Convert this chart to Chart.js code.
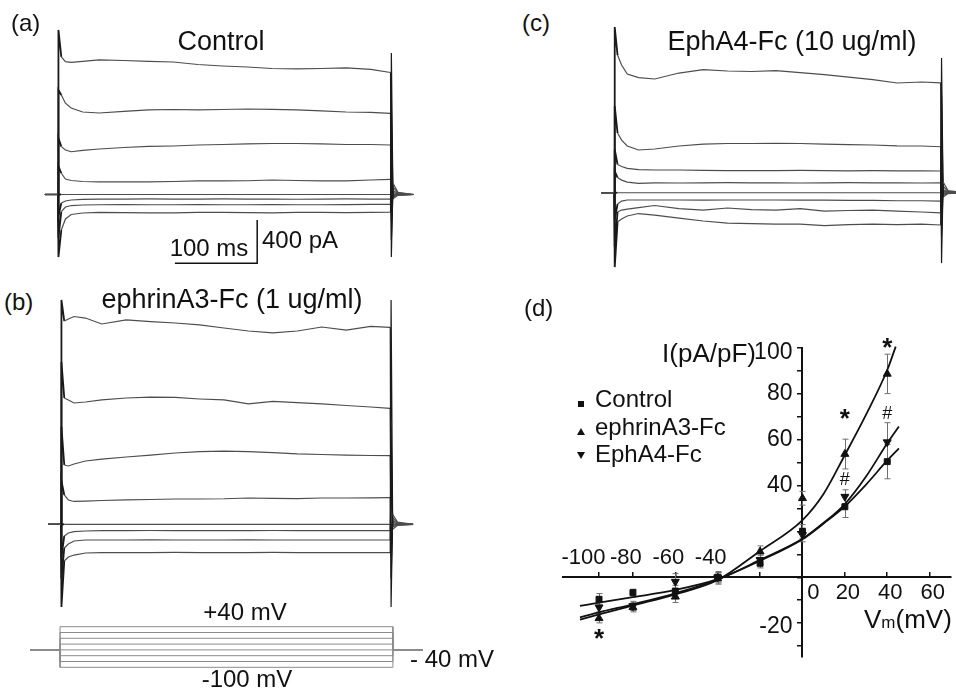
<!DOCTYPE html>
<html>
<head>
<meta charset="utf-8">
<script src="https://cdn.jsdelivr.net/npm/chart.js@4.4.1/dist/chart.umd.min.js"></script>
<style>
  html, body { margin: 0; padding: 0; background: #fff; }
  #fig { position: relative; width: 956px; height: 692px; overflow: hidden;
         font-family: 'Liberation Sans', Arial, sans-serif; color: #111; }
  canvas { position: absolute; }
  .lbl { position: absolute; white-space: nowrap; line-height: 1; transform: translate(-50%, -50%); }
  .lbl.lft { transform: translate(0, -50%); }
  .lbl.rgt { transform: translate(-100%, -50%); }
  .mk { position: absolute; width: 0; height: 0; }
</style>
</head>
<body>
<div id="fig">
  <canvas id="panelA" width="380" height="260" style="left:40px;top:20px"></canvas>
  <canvas id="panelB" width="380" height="325" style="left:40px;top:290px"></canvas>
  <canvas id="panelC" width="366" height="260" style="left:590px;top:20px"></canvas>
  <canvas id="protocol" width="420" height="80" style="left:20px;top:600px"></canvas>
  <canvas id="panelD" width="411" height="369" style="left:545px;top:318px"></canvas>

  <div class="lbl lft" style="left:11px;top:23px;font-size:24px">(a)</div>
  <div class="lbl" style="left:221px;top:41px;font-size:27px">Control</div>
  <div class="lbl" style="left:209px;top:248px;font-size:24px">100 ms</div>
  <div class="lbl lft" style="left:262px;top:240px;font-size:24px">400 pA</div>

  <div class="lbl lft" style="left:4px;top:302px;font-size:24px">(b)</div>
  <div class="lbl" style="left:232px;top:299px;font-size:27px">ephrinA3-Fc (1 ug/ml)</div>

  <div class="lbl" style="left:245px;top:612px;font-size:24px">+40 mV</div>
  <div class="lbl" style="left:247px;top:679px;font-size:24px">-100 mV</div>
  <div class="lbl lft" style="left:410px;top:659px;font-size:24px">- 40 mV</div>

  <div class="lbl lft" style="left:522px;top:23px;font-size:24px">(c)</div>
  <div class="lbl" style="left:792px;top:41px;font-size:27px">EphA4-Fc (10 ug/ml)</div>

  <div class="lbl lft" style="left:524px;top:308px;font-size:24px">(d)</div>
  <div class="lbl rgt" style="left:756px;top:353px;font-size:26px">I(pA/pF)</div>
  <div class="lbl lft" style="left:864px;top:619px;font-size:26px">V<span style="font-size:17px">m</span>(mV)</div>

  <div class="mk" style="left:578px;top:401px;width:6px;height:6px;background:#111"></div>
  <div class="lbl lft" style="left:595px;top:399px;font-size:24px">Control</div>
  <div class="mk" style="left:577px;top:428px;border-left:4px solid transparent;border-right:4px solid transparent;border-bottom:7px solid #111"></div>
  <div class="lbl lft" style="left:595px;top:427px;font-size:24px">ephrinA3-Fc</div>
  <div class="mk" style="left:577px;top:452px;border-left:4px solid transparent;border-right:4px solid transparent;border-top:7px solid #111"></div>
  <div class="lbl lft" style="left:595px;top:454px;font-size:24px">EphA4-Fc</div>
</div>

<script>
// ---- current traces: sample times (ms) and current (pA) for each voltage step ----
const traceTime = [-16, 0, 0.5, 4, 9, 16, 30, 50, 80, 110, 140, 170, 200, 230, 260, 290, 320, 350, 380, 404, 405, 407, 413, 432];

// (a) control
const a40   = [0, 0, 1520, 1271, 1227, 1220, 1229, 1243, 1238, 1229, 1224, 1201, 1187, 1178, 1164, 1160, 1164, 1169, 1155, 1127, -578, 104, 20, 0];
const a20   = [0, 0, 965, 919, 843, 799, 762, 753, 767, 781, 785, 781, 785, 790, 787, 781, 772, 762, 758, 750, -420, 70, 15, 0];
const a0    = [0, 0, 520, 442, 411, 395, 407, 420, 434, 444, 448, 457, 462, 467, 471, 471, 467, 462, 462, 457, -250, 40, 8, 0];
const aM20  = [0, 0, 260, 196, 143, 129, 120, 116, 116, 117, 120, 125, 125, 127, 134, 129, 125, 125, 134, 140, -120, 20, 4, 0];
const aM40  = [0, 0, 0, 0, 0, 0, 0, 0, 0, 0, 0, 0, 0, 0, 0, 0, 0, 0, 0, 0, 0, 0, 0, 0];
const aM60  = [0, 0, -200, -79, -60, -51, -46, -42, -42, -40, -42, -42, -40, -42, -42, -44, -42, -40, -42, -42, 300, -10, -3, 0];
const aM80  = [0, 0, -400, -159, -116, -102, -97, -95, -93, -95, -95, -93, -95, -95, -93, -95, -95, -93, -92, -92, 800, -25, -6, 0];
const aM100 = [0, 0, -578, -328, -226, -185, -171, -166, -168, -170, -170, -166, -166, -168, -170, -166, -166, -168, -166, -164, 1307, -40, -8, 0];

// (b) ephrinA3-Fc
const b40   = [0, 0, 2073, 1878, 1897, 1920, 1906, 1851, 1888, 1872, 1860, 1842, 1814, 1786, 1768, 1786, 1823, 1795, 1828, 1820, -764, 90, 20, 0];
const b20   = [0, 0, 1500, 1167, 1149, 1121, 1130, 1149, 1167, 1176, 1172, 1158, 1149, 1112, 1135, 1125, 1112, 1098, 1084, 1072, -500, 60, 12, 0];
const b0    = [0, 0, 900, 548, 539, 557, 585, 603, 622, 640, 659, 671, 677, 671, 663, 650, 645, 640, 636, 634, -300, 35, 8, 0];
const bM20  = [0, 0, 400, 271, 225, 211, 215, 220, 225, 229, 234, 234, 236, 243, 240, 238, 243, 243, 245, 246, -150, 18, 4, 0];
const bM40  = [0, 0, 0, 0, 0, 0, 0, 0, 0, 0, 0, 0, 0, 0, 0, 0, 0, 0, 0, 0, 0, 0, 0, 0];
const bM60  = [0, 0, -300, -108, -80, -67, -62, -59, -59, -57, -59, -59, -59, -59, -57, -59, -59, -59, -59, -59, 400, -10, -3, 0];
const bM80  = [0, 0, -500, -219, -182, -154, -145, -145, -145, -143, -145, -145, -145, -143, -145, -145, -145, -145, -145, -145, 900, -25, -6, 0];
const bM100 = [0, 0, -764, -339, -302, -284, -265, -262, -262, -262, -260, -262, -262, -262, -260, -262, -262, -262, -262, -262, 2073, -45, -10, 0];

// (c) EphA4-Fc
const c40   = [0, 0, 1531, 1272, 1180, 1097, 1064, 1051, 1106, 1138, 1125, 1120, 1129, 1109, 1092, 1069, 1046, 1014, 1023, 1016, -650, 100, 20, 0];
const c20   = [0, 0, 800, 552, 487, 432, 395, 404, 432, 450, 455, 455, 456, 455, 450, 445, 441, 434, 432, 425, -400, 60, 12, 0];
const c0    = [0, 0, 400, 261, 242, 225, 214, 210, 210, 207, 205, 205, 205, 207, 205, 203, 205, 203, 203, 201, -200, 30, 6, 0];
const cM20  = [0, 0, 200, 140, 117, 99, 87, 92, 90, 92, 94, 92, 92, 90, 92, 94, 92, 92, 90, 92, -100, 15, 3, 0];
const cM40  = [0, 0, 0, 0, 0, 0, 0, 0, 0, 0, 0, 0, 0, 0, 0, 0, 0, 0, 0, 0, 0, 0, 0, 0];
const cM60  = [0, 0, -250, -104, -77, -67, -67, -67, -67, -69, -67, -67, -67, -69, -69, -71, -71, -74, -74, -77, 400, -10, -3, 0];
const cM80  = [0, 0, -500, -178, -160, -151, -137, -118, -146, -160, -141, -155, -160, -146, -169, -164, -160, -169, -178, -185, 900, -25, -6, 0];
const cM100 = [0, 0, -687, -271, -243, -215, -192, -206, -234, -261, -280, -285, -289, -289, -303, -294, -289, -294, -289, -298, 1245, -40, -8, 0];

// scale bar: 100 ms / 400 pA, anchored at its corner (ms, pA)
const scaleBarOrigin = [142, -636];
const scaleBarMs = 100;
const scaleBarPA = 400;

// ---- voltage protocol (mV) ----
const stepLevels = [-100, -80, -60, -40, -20, 0, 20, 40];
const holdingMv = -40;
const protocolTime = [-36.5, 0, 0, 405, 405, 441.6];

// ---- (d) I-V relation ----
const ivVoltage  = [-96, -80, -60, -40, -20, 0, 20, 40];
const ctrlMean   = [-9.6, -6.7, -6, 0, 6.1, 20, 30.8, 50.5];
const ctrlErr    = [2.5, 1.5, 2.5, 2, 2, 3, 4.7, 7.5];
const ephrinMean = [-17.9, -13.1, -8.5, -0.5, 11.2, 34.5, 53.8, 88.8];
const ephrinErr  = [2, 2, 2.5, 2.5, 2.5, 3, 6.5, 8.6];
const ephaMean   = [-13.1, -12.5, -1.9, 0, 7.6, 18.5, 35.2, 59];
const ephaErr    = [2, 2, 3.5, 2.5, 2, 3, 3, 8.5];

const fitVoltage       = [-105, -96, -80, -60, -40, -20, 0, 10, 20, 30, 40, 45.5];
const ctrlFit          = [-12.5, -11.1, -8.7, -5.5, -0.8, 7.2, 16.6, 23.5, 31, 40.5, 51, 56.3];
const ephaFit          = [-17.5, -15.3, -11.8, -7, -1, 7.6, 16.8, 23.8, 32, 44, 58.5, 65.8];
const ephrinFitVoltage = [-105, -96, -80, -60, -40, -20, 0, 10, 20, 30, 40, 44];
const ephrinFit        = [-18.5, -16.2, -12.3, -7.5, -1.2, 11.5, 25, 36.5, 53.4, 71, 90.5, 100.7];

const vmTicks       = [-96, -80, -60, -40, -20, 20, 40, 60];
const vmLabelValues = [-100, -80, -60, -40, 0, 20, 40, 60];
const iLabelValues  = [100, 80, 60, 40, -20];

const sigVoltage = [40, 20, 40, 20, -96];
const sigCurrent = [102.5, 71.5, 71.3, 42.5, -24.5];
const sigText    = ['*', '*', '#', '#', '*'];

Chart.defaults.font.family = "'Liberation Sans', Arial, sans-serif";
Chart.defaults.color = '#111';

const TRACE_COLOR = '#4d4d4d';
const INK = '#111';

function xy(xs, ys) {
    return xs.map((x, i) => ({ x, y: ys[i] }));
}

function baseOptions(xMin, xMax, yMin, yMax) {
    return {
        responsive: false,
        animation: false,
        events: [],
        layout: { padding: 0 },
        plugins: { legend: { display: false }, tooltip: { enabled: false } },
        scales: {
            x: { type: 'linear', display: false, min: xMin, max: xMax },
            y: { type: 'linear', display: false, min: yMin, max: yMax },
        },
    };
}

// capacitive transients: the step-on one is drawn heavier, the step-off one darker
const isOnset = i => i === 1 || i === 2;
const isOffset = i => i === 19 || i === 20;

function traceChart(id, traces, xRange, yRange, extra) {
    const datasets = traces.map(vals => ({
        data: xy(traceTime, vals),
        borderColor: TRACE_COLOR,
        borderWidth: 1.2,
        pointRadius: 0,
        tension: 0,
        segment: {
            borderColor: c => (isOnset(c.p0DataIndex) || isOffset(c.p0DataIndex)) ? '#1a1a1a' : undefined,
            borderWidth: c => isOnset(c.p0DataIndex) ? 1.8 : undefined,
        },
    }));
    return new Chart(document.getElementById(id), {
        type: 'line',
        data: { datasets: datasets.concat(extra || []) },
        options: baseOptions(xRange[0], xRange[1], yRange[0], yRange[1]),
    });
}

const scaleBar = {
    data: [
        { x: scaleBarOrigin[0], y: scaleBarOrigin[1] },
        { x: scaleBarOrigin[0] + scaleBarMs, y: scaleBarOrigin[1] },
        { x: scaleBarOrigin[0] + scaleBarMs, y: scaleBarOrigin[1] + scaleBarPA },
    ],
    borderColor: INK,
    borderWidth: 1.5,
    pointRadius: 0,
};

traceChart('panelA', [a40, a20, a0, aM20, aM40, aM60, aM80, aM100], [-21.9, 439.8], [-790, 1612], [scaleBar]);
traceChart('panelB', [b40, b20, b0, bM20, bM40, bM60, bM80, bM100], [-25.8, 440.5], [-838, 2165]);
traceChart('panelC', [c40, c20, c0, cM20, cM40, cM60, cM80, cM100], [-30.1, 422.9], [-806, 1596]);

// voltage protocol
const protocolSets = stepLevels.map(v => ({
    data: xy(protocolTime, [holdingMv, holdingMv, v, v, holdingMv, holdingMv]),
    borderColor: '#8c8c8c',
    borderWidth: 1,
    pointRadius: 0,
}));
protocolSets.push({
    data: [
        { x: protocolTime[0], y: holdingMv }, { x: protocolTime[1], y: holdingMv },
        { x: 200, y: null },
        { x: protocolTime[4], y: holdingMv }, { x: protocolTime[5], y: holdingMv },
    ],
    borderColor: INK,
    borderWidth: 1.4,
    pointRadius: 0,
    spanGaps: false,
});
new Chart(document.getElementById('protocol'), {
    type: 'line',
    data: { datasets: protocolSets },
    options: baseOptions(-48.7, 462.3, -143.8, 132.1),
});

// ---- (d) plugins ----
const errorBars = {
    id: 'errorBars',
    beforeDatasetsDraw(chart) {
        const { ctx, scales: { x, y } } = chart;
        const groups = [[ctrlMean, ctrlErr], [ephrinMean, ephrinErr], [ephaMean, ephaErr]];
        ctx.save();
        ctx.strokeStyle = '#6e6e6e';
        ctx.lineWidth = 1;
        groups.forEach(([means, errs]) => {
            ivVoltage.forEach((v, i) => {
                const px = Math.round(x.getPixelForValue(v)) + 0.5;
                const top = y.getPixelForValue(means[i] + errs[i]);
                const bot = y.getPixelForValue(means[i] - errs[i]);
                ctx.beginPath();
                ctx.moveTo(px, top); ctx.lineTo(px, bot);
                ctx.moveTo(px - 3, top); ctx.lineTo(px + 3, top);
                ctx.moveTo(px - 3, bot); ctx.lineTo(px + 3, bot);
                ctx.stroke();
            });
        });
        ctx.restore();
    },
};

// tick labels sit on both sides of the crossing axes, so they are placed by hand
const ivText = {
    id: 'ivText',
    afterDraw(chart) {
        const { ctx, scales: { x, y } } = chart;
        const y0 = y.getPixelForValue(0);
        const x0 = x.getPixelForValue(0);
        ctx.save();
        ctx.fillStyle = INK;
        ctx.textBaseline = 'middle';
        ctx.textAlign = 'center';
        ctx.font = "22px 'Liberation Sans', Arial, sans-serif";
        vmLabelValues.forEach(v => {
            const above = v < 0;
            const dx = v === 0 ? 11 : (above ? -7 : 3);
            ctx.fillText(String(v), x.getPixelForValue(v) + dx, y0 + (above ? -19 : 16));
        });
        ctx.textAlign = 'right';
        ctx.font = "23px 'Liberation Sans', Arial, sans-serif";
        iLabelValues.forEach(v => {
            const dy = (v === 100 || v < 0) ? 4 : 0;
            ctx.fillText(String(v), x0 - 10, y.getPixelForValue(v) + dy);
        });
        ctx.textAlign = 'center';
        sigText.forEach((t, i) => {
            ctx.font = t === '*' ? "bold 26px 'Liberation Sans', Arial, sans-serif" : "18px 'Liberation Sans', Arial, sans-serif";
            const dy = t === '*' ? 6 : 0;
            ctx.fillText(t, x.getPixelForValue(sigVoltage[i]), y.getPixelForValue(sigCurrent[i]) + dy);
        });
        ctx.restore();
    },
};

function fitSet(xs, ys) {
    return {
        type: 'line',
        data: xy(xs, ys),
        borderColor: INK,
        borderWidth: 1.8,
        pointRadius: 0,
        cubicInterpolationMode: 'monotone',
        clip: 6,
    };
}

function markerSet(means, style, radius, rotation) {
    return {
        type: 'scatter',
        data: xy(ivVoltage, means),
        pointStyle: style,
        pointRadius: radius,
        rotation: rotation,
        backgroundColor: INK,
        borderColor: INK,
        borderWidth: 1,
    };
}

new Chart(document.getElementById('panelD'), {
    type: 'scatter',
    data: {
        datasets: [
            fitSet(fitVoltage, ctrlFit),
            fitSet(ephrinFitVoltage, ephrinFit),
            fitSet(fitVoltage, ephaFit),
            markerSet(ctrlMean, 'rect', 4.2, 0),
            markerSet(ephrinMean, 'triangle', 4.6, 0),
            markerSet(ephaMean, 'triangle', 4.6, 180),
        ],
    },
    options: {
        responsive: false,
        animation: false,
        events: [],
        layout: { padding: { left: 18, top: 30, right: 0, bottom: 30 } },
        plugins: { legend: { display: false }, tooltip: { enabled: false } },
        scales: {
            x: {
                type: 'linear',
                min: -113,
                max: 69.8,
                position: { y: 0 },
                afterBuildTicks: scale => { scale.ticks = vmTicks.map(v => ({ value: v })); },
                ticks: { display: false },
                grid: { drawOnChartArea: false, drawTicks: true, tickLength: -6, color: INK, lineWidth: 1.5 },
                border: { display: true, color: INK, width: 2 },
            },
            y: {
                type: 'linear',
                min: -34.8,
                max: 100.1,
                position: { x: 0 },
                ticks: { display: false, stepSize: 10, includeBounds: false },
                grid: { drawOnChartArea: false, drawTicks: true, tickLength: 4, color: INK, lineWidth: 1.5 },
                border: { display: true, color: INK, width: 2 },
            },
        },
    },
    plugins: [errorBars, ivText],
});
</script>
</body>
</html>
